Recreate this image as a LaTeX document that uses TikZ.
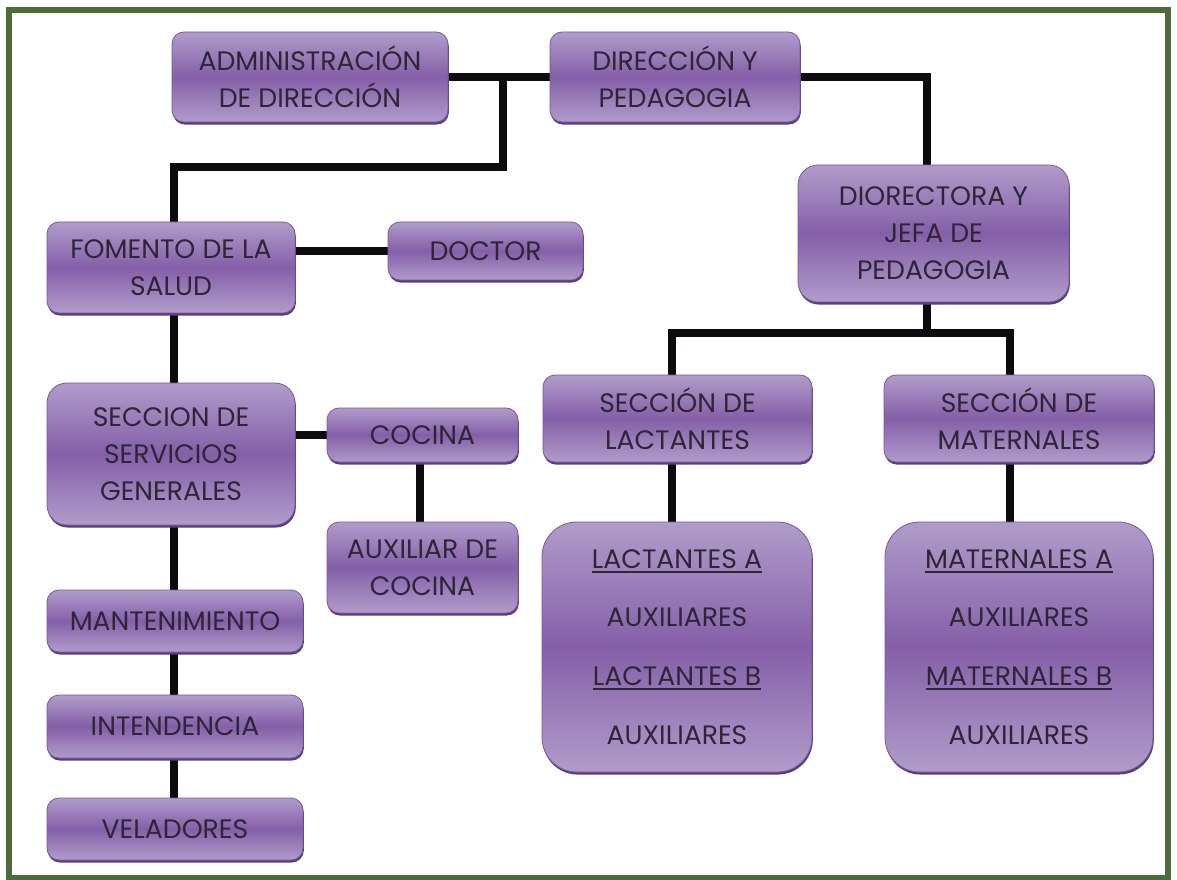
\documentclass[tikz,border=0pt]{standalone}
\usepackage{fontspec}
\setmainfont{Poppins}
\usetikzlibrary{shadows,backgrounds}

\definecolor{framegreen}{HTML}{4B6B39}
\definecolor{boxlight}{HTML}{B09CCA}
\definecolor{boxdark}{HTML}{845FA8}
\definecolor{boxedge}{HTML}{7A5A9C}
\definecolor{boxshade}{HTML}{5B3E79}
\definecolor{inktext}{HTML}{2E2636}
\definecolor{wire}{HTML}{0E0B10}

% thick underline used inside the group boxes
\newcommand\ulbox[1]{\setbox0\hbox{#1}\rlap{\rule[-3.4pt]{\wd0}{1.5pt}}\box0}

\tikzset{
  orgbox/.style={draw=boxedge, line width=0.6pt, rounded corners=9pt,
    shading=axis, top color=boxlight, bottom color=boxlight, middle color=boxdark,
    drop shadow={shadow xshift=0.6pt, shadow yshift=-1.9pt, fill=boxshade, opacity=1},
    inner sep=0pt, align=center, text=inktext,
    font=\fontsize{20pt}{27.75pt}\selectfont},
  tallbox/.style={orgbox, rounded corners=15pt},
  groupbox/.style={orgbox, rounded corners=26pt,
    font=\fontsize{20pt}{44pt}\selectfont},
  wireline/.style={draw=wire, line width=6pt, line join=miter, line cap=butt}
}

\begin{document}
\begin{tikzpicture}[x=0.75pt, y=-0.75pt]
\useasboundingbox (0,0) rectangle (1177,880);

% top row
\node[orgbox, minimum width=207pt, minimum height=67.5pt] (admin) at (310,77) {ADMINISTRACIÓN\\DE DIRECCIÓN};
\node[orgbox, minimum width=187.5pt, minimum height=67.5pt] (dir) at (675,77) {DIRECCIÓN Y\\PEDAGOGIA};

% health and services branch
\node[orgbox, minimum width=186pt, minimum height=68.25pt] (fomento) at (171,267.5) {FOMENTO DE LA\\SALUD};
\node[orgbox, minimum width=146.25pt, minimum height=43.5pt] (doctor) at (485.5,251) {DOCTOR};
\node[tallbox, minimum width=186pt, minimum height=106.5pt] (servicios) at (171,454) {SECCION DE\\SERVICIOS\\GENERALES};
\node[orgbox, minimum width=143.25pt, minimum height=40.5pt] (cocina) at (422.5,435) {COCINA};
\node[orgbox, minimum width=143.25pt, minimum height=68.25pt] (auxcocina) at (422.5,567.5) {AUXILIAR DE\\COCINA};
\node[orgbox, minimum width=192pt, minimum height=46.5pt] (mant) at (175,621) {MANTENIMIENTO};
\node[orgbox, minimum width=192pt, minimum height=47.25pt] (intend) at (175,726.5) {INTENDENCIA};
\node[orgbox, minimum width=192pt, minimum height=46.5pt] (velad) at (175,829) {VELADORES};

% pedagogy branch
\node[tallbox, minimum width=203.25pt, minimum height=102.75pt] (jefa) at (933.5,233.5) {DIORECTORA Y\\JEFA DE\\PEDAGOGIA};
\node[orgbox, minimum width=201.75pt, minimum height=65.25pt] (seclact) at (677.5,418.5) {SECCIÓN DE\\LACTANTES};
\node[orgbox, minimum width=202.5pt, minimum height=65.25pt] (secmat) at (1019,418.5) {SECCIÓN DE\\MATERNALES};
\node[groupbox, minimum width=202.5pt, minimum height=187.5pt] (lact) at (677,647) {\ulbox{LACTANTES A}\\AUXILIARES\\\ulbox{LACTANTES B}\\AUXILIARES};
\node[groupbox, minimum width=201pt, minimum height=187.5pt] (mat) at (1019,647) {\ulbox{MATERNALES A}\\AUXILIARES\\\ulbox{MATERNALES B}\\AUXILIARES};

% junction points of the connectors
\coordinate (split) at (503,77);
\coordinate (splitdown) at (503,167);
\coordinate (leftcol) at (174,167);
\coordinate (rightturn) at (927,77);
\coordinate (hub) at (927,333);
\coordinate (hubleft) at (672,333);
\coordinate (hubright) at (1010,333);
\coordinate (kitchen) at (420,0);

\begin{scope}[on background layer]
\fill[white] (0,0) rectangle (1177,880);
\draw[framegreen, line width=4.6pt] (9,10) rectangle (1168,878);
\draw[wireline] (admin.east) -- (dir.west);
\draw[wireline] (split) -- (splitdown) -- (leftcol) -- (leftcol |- fomento.north);
\draw[wireline] (dir.east) -- (rightturn) -- (rightturn |- jefa.north);
\draw[wireline] (fomento.east |- doctor.west) -- (doctor.west);
\draw[wireline] (leftcol |- fomento.south) -- (leftcol |- servicios.north);
\draw[wireline] (leftcol |- servicios.south) -- (leftcol |- mant.north);
\draw[wireline] (leftcol |- mant.south) -- (leftcol |- intend.north);
\draw[wireline] (leftcol |- intend.south) -- (leftcol |- velad.north);
\draw[wireline] (servicios.east |- cocina.west) -- (cocina.west);
\draw[wireline] (kitchen |- cocina.south) -- (kitchen |- auxcocina.north);
\draw[wireline] (hub |- jefa.south) -- (hub);
\draw[wireline] (hubleft |- seclact.north) -- (hubleft) -- (hubright) -- (hubright |- secmat.north);
\draw[wireline] (hubleft |- seclact.south) -- (hubleft |- lact.north);
\draw[wireline] (hubright |- secmat.south) -- (hubright |- mat.north);
\end{scope}
\end{tikzpicture}
\end{document}
